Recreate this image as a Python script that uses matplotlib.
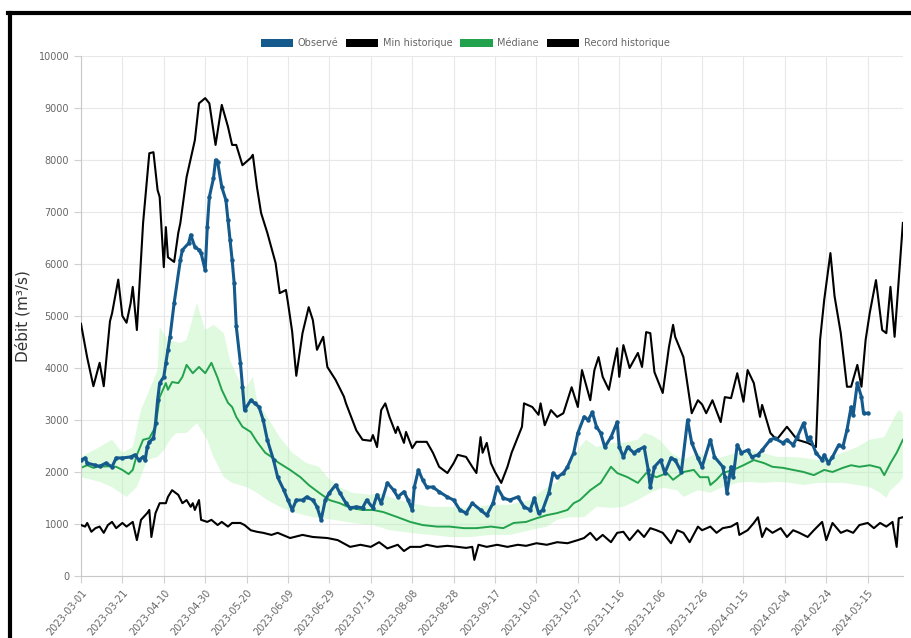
import numpy as np
import matplotlib
matplotlib.use("Agg")
import matplotlib.pyplot as plt
import matplotlib.dates as mdates
from matplotlib.patches import Patch
from matplotlib.lines import Line2D

start = np.datetime64("2023-03-01")
end_day = 397

# observed flow (day offset from 2023-03-01, m3/s)
obs_days = [0, 2, 3, 7, 9, 12, 15, 17, 20, 24, 26, 28, 30, 31, 32, 33, 35, 36, 37, 38, 40, 41, 42, 43,
            45, 48, 49, 52, 53, 55, 57, 58, 60, 61, 62, 64, 65, 66, 68, 70, 71, 72, 73, 74, 75, 77, 78, 79,
            82, 84, 86, 88, 90, 93, 95, 98, 100, 102, 104, 107, 109, 112, 114, 116, 118, 120, 123, 125, 128,
            130, 133, 136, 138, 141, 143, 145, 148, 151, 153, 156, 158, 160, 161, 163, 165, 167, 170, 173,
            177, 180, 183, 186, 189, 193, 196, 199, 201, 204, 207, 211, 214, 217, 219, 221, 223, 226, 228,
            230, 233, 235, 238, 240, 243, 245, 247, 249, 251, 253, 256, 259, 260, 262, 264, 267, 269, 272,
            274, 275, 277, 280, 282, 285, 287, 290, 293, 295, 298, 300, 304, 306, 310, 311, 312, 314, 315,
            317, 319, 322, 324, 327, 329, 333, 335, 339, 341, 344, 346, 349, 351, 352, 355, 358, 359, 361,
            363, 366, 368, 370, 372, 373, 375, 377, 378, 380]
obs_vals = [2230, 2270, 2170, 2130, 2110, 2170, 2100, 2270, 2270, 2290, 2330, 2230, 2290, 2230, 2480, 2580,
            2650, 2940, 3380, 3710, 3830, 4100, 4350, 4600, 5250, 6080, 6270, 6400, 6560, 6330, 6270, 6210,
            5880, 6710, 7290, 7650, 8000, 7960, 7480, 7230, 6850, 6460, 6080, 5630, 4800, 4100, 3640, 3190,
            3380, 3320, 3250, 3000, 2620, 2230, 1900, 1650, 1460, 1270, 1460, 1460, 1520, 1460, 1330, 1080,
            1460, 1600, 1750, 1600, 1400, 1310, 1330, 1310, 1460, 1310, 1560, 1400, 1790, 1650, 1520, 1620,
            1460, 1270, 1710, 2040, 1850, 1710, 1710, 1620, 1520, 1460, 1270, 1210, 1400, 1270, 1170, 1400,
            1710, 1500, 1460, 1520, 1330, 1270, 1500, 1210, 1270, 1600, 1980, 1900, 1980, 2100, 2370, 2750,
            3060, 3000, 3150, 2870, 2750, 2480, 2670, 2960, 2480, 2290, 2480, 2370, 2420, 2480, 2040, 1710,
            2100, 2230, 1980, 2270, 2230, 2000, 3000, 2560, 2270, 2100, 2620, 2290, 2100, 1900, 1600, 2100,
            1900, 2520, 2370, 2420, 2290, 2330, 2420, 2620, 2650, 2560, 2620, 2520, 2670, 2940, 2620, 2670,
            2370, 2230, 2330, 2170, 2290, 2520, 2480, 2810, 3250, 3100, 3710, 3440, 3130, 3130]

# historical minimum
min_days = [0, 2, 3, 5, 7, 9, 11, 13, 15, 17, 20, 22, 25, 27, 29, 32, 33, 34, 36, 38, 41, 42, 44, 47, 49,
            51, 53, 54, 55, 57, 58, 61, 63, 66, 68, 71, 73, 77, 79, 82, 85, 88, 92, 95, 101, 107, 112, 119,
            124, 130, 135, 140, 144, 148, 153, 156, 159, 164, 167, 172, 177, 182, 186, 189, 190, 192, 196,
            201, 206, 211, 215, 220, 225, 230, 235, 240, 243, 246, 249, 252, 256, 259, 262, 265, 269, 272,
            275, 278, 281, 285, 288, 291, 294, 298, 300, 304, 307, 310, 314, 317, 318, 322, 325, 327, 329,
            331, 334, 338, 341, 344, 347, 351, 354, 358, 360, 363, 367, 370, 373, 376, 380, 383, 386, 389,
            392, 394, 395, 397]
min_vals = [980, 950, 1020, 850, 920, 950, 830, 980, 1040, 920, 1020, 950, 1040, 690, 1080, 1210, 1270, 750,
            1210, 1400, 1400, 1520, 1650, 1560, 1400, 1460, 1330, 1400, 1270, 1460, 1080, 1040, 1080, 980,
            1040, 950, 1020, 1020, 980, 880, 850, 830, 790, 830, 730, 790, 750, 730, 690, 560, 600, 560, 650,
            530, 600, 480, 560, 560, 600, 560, 580, 560, 540, 560, 310, 600, 560, 600, 560, 600, 580, 630,
            600, 650, 630, 690, 730, 830, 690, 790, 650, 830, 850, 690, 880, 750, 920, 880, 830, 630, 880,
            830, 650, 950, 880, 950, 830, 920, 950, 1020, 790, 880, 1020, 1130, 750, 920, 830, 920, 750, 880,
            830, 750, 880, 1040, 690, 1020, 830, 880, 830, 980, 1020, 920, 1020, 950, 1040, 560, 1110, 1130]

# median
med_days = [0, 3, 6, 8, 13, 17, 20, 23, 25, 27, 30, 33, 36, 38, 41, 42, 44, 47, 49, 51, 54, 57, 60, 63,
            66, 68, 71, 73, 75, 78, 82, 85, 89, 92, 95, 101, 106, 110, 115, 120, 125, 130, 136, 141, 146,
            153, 159, 165, 172, 178, 185, 191, 198, 204, 209, 215, 220, 225, 230, 235, 238, 241, 246, 251,
            256, 259, 264, 269, 273, 278, 283, 286, 291, 296, 299, 303, 304, 307, 310, 315, 320, 325, 330,
            334, 339, 344, 349, 354, 359, 363, 368, 372, 376, 381, 386, 388, 391, 394, 397]
med_vals = [2080, 2130, 2080, 2100, 2110, 2100, 2040, 1960, 2040, 2330, 2620, 2650, 2870, 3440, 3710, 3580,
            3730, 3710, 3830, 4060, 3900, 4020, 3900, 4100, 3810, 3580, 3330, 3250, 3060, 2870, 2770, 2580,
            2370, 2290, 2190, 2040, 1900, 1750, 1600, 1460, 1400, 1310, 1270, 1270, 1230, 1130, 1040, 980,
            950, 950, 920, 920, 950, 920, 1020, 1040, 1110, 1170, 1210, 1270, 1400, 1460, 1650, 1790, 2100,
            1980, 1900, 1790, 1980, 1900, 1980, 1850, 2000, 2040, 1900, 1900, 1750, 1850, 1980, 2040, 2130,
            2230, 2170, 2100, 2080, 2040, 2000, 1940, 2040, 2000, 2080, 2130, 2100, 2130, 2080, 1940, 2170,
            2370, 2620]

# band around the median
up_days = [0, 9, 15, 20, 25, 29, 37, 38, 42, 48, 51, 56, 60, 64, 69, 72, 77, 80, 83, 85, 90, 96, 102, 109,
           115, 119, 125, 131, 140, 144, 149, 159, 169, 178, 188, 198, 207, 217, 223, 230, 236, 241, 244,
           249, 256, 262, 269, 272, 276, 280, 285, 291, 298, 304, 310, 317, 323, 329, 336, 343, 349, 356,
           362, 368, 375, 381, 388, 393, 395, 397]
up_vals = [2290, 2480, 2620, 2370, 2480, 3190, 3960, 4790, 4540, 4480, 4540, 5250, 4730, 4830, 4670, 4150,
           3710, 3640, 3830, 3380, 3060, 2670, 2370, 2170, 2100, 1900, 1710, 1600, 1560, 1600, 1520, 1400,
           1330, 1330, 1310, 1370, 1370, 1460, 1650, 1810, 2170, 2480, 2620, 2480, 2560, 2560, 2620, 2750,
           2700, 2600, 2370, 2230, 2370, 2230, 2290, 2370, 2420, 2370, 2290, 2290, 2270, 2230, 2290, 2370,
           2480, 2620, 2670, 3060, 3190, 3130]
lo_days = [0, 9, 15, 22, 27, 32, 37, 40, 43, 46, 51, 56, 61, 64, 69, 73, 80, 85, 90, 96, 104, 112, 122, 131,
           141, 149, 159, 169, 178, 188, 198, 207, 217, 225, 230, 236, 243, 249, 256, 262, 269, 275, 281,
           288, 291, 298, 304, 310, 317, 323, 329, 336, 343, 349, 356, 362, 368, 375, 381, 386, 389, 391,
           395, 397]
lo_vals = [1900, 1810, 1710, 1520, 1710, 2230, 2290, 2420, 2620, 2750, 2750, 2940, 2620, 2290, 1900, 1790,
           1710, 1600, 1460, 1330, 1210, 1130, 1080, 1020, 980, 880, 830, 790, 750, 750, 790, 790, 880, 950,
           1080, 1130, 1130, 1330, 1310, 1330, 1460, 1600, 1700, 1650, 1520, 1650, 1600, 1710, 1790, 1810,
           1790, 1810, 1790, 1750, 1790, 1790, 1790, 1750, 1710, 1600, 1500, 1650, 1790, 1900]

# historical record
rec_days = [0, 3, 6, 9, 11, 14, 15, 18, 20, 22, 24, 25, 27, 30, 33, 35, 37, 38, 40, 41, 42, 45, 47, 48, 51,
            55, 57, 60, 62, 65, 68, 71, 73, 75, 78, 82, 83, 85, 87, 90, 94, 96, 99, 100, 102, 104, 107, 110,
            112, 114, 117, 119, 123, 127, 128, 133, 136, 140, 141, 143, 145, 147, 149, 152, 153, 156, 157,
            160, 162, 167, 170, 173, 177, 180, 182, 186, 189, 191, 193, 194, 196, 198, 200, 203, 206, 208,
            211, 213, 214, 218, 221, 222, 224, 227, 230, 233, 235, 237, 240, 242, 246, 248, 250, 252, 255,
            257, 259, 260, 262, 265, 269, 271, 273, 275, 277, 281, 284, 286, 287, 291, 295, 298, 300, 302,
            305, 309, 311, 314, 317, 320, 322, 325, 328, 329, 333, 336, 341, 346, 351, 355, 357, 359, 362,
            364, 367, 370, 372, 375, 377, 379, 381, 384, 387, 389, 391, 393, 397]
rec_vals = [4850, 4200, 3650, 4100, 3650, 4900, 5050, 5700, 5000, 4870, 5250, 5560, 4730, 6790, 8130, 8150,
            7420, 7290, 5940, 6710, 6130, 6040, 6600, 6790, 7670, 8380, 9090, 9190, 9090, 8290, 9060, 8640,
            8290, 8290, 7900, 8040, 8100, 7480, 6980, 6600, 6020, 5440, 5500, 5250, 4700, 3850, 4670, 5170,
            4920, 4350, 4600, 4020, 3770, 3450, 3320, 2800, 2620, 2600, 2710, 2480, 3190, 3320, 3060, 2750,
            2870, 2560, 2770, 2460, 2580, 2580, 2370, 2100, 1980, 2170, 2330, 2290, 2100, 1980, 2670, 2370,
            2560, 2170, 2000, 1790, 2100, 2370, 2670, 2870, 3320, 3250, 3100, 3320, 2900, 3190, 3060, 3130,
            3380, 3630, 3250, 3960, 3380, 3960, 4210, 3830, 3580, 4000, 4380, 3830, 4440, 4000, 4290, 4020,
            4690, 4670, 3920, 3520, 4400, 4830, 4600, 4210, 3130, 3380, 3300, 3130, 3380, 2960, 3440, 3420,
            3900, 3350, 3960, 3710, 3060, 3290, 2750, 2620, 2870, 2620, 2560, 2480, 4540, 5310, 6210, 5380,
            4670, 3640, 3640, 4060, 3640, 4540, 5060, 5690, 4730, 4670, 5560, 4600, 6790]


def to_dates(days):
    return start + np.array(days).astype("timedelta64[D]")


blue = "#155a8d"
green = "#23a24d"

fig = plt.figure(figsize=(9.12, 6.38), dpi=100)
ax = fig.add_axes([0.0888, 0.0972, 0.9012, 0.815])

band_x = np.concatenate([to_dates(up_days), to_dates(lo_days)[::-1]])
band_y = np.concatenate([up_vals, lo_vals[::-1]])
ax.fill(band_x, band_y, color="#b8f5b8", alpha=0.45, lw=0, zorder=1)

ax.plot(to_dates(med_days), med_vals, color=green, lw=1.4, zorder=2)
ax.plot(to_dates(rec_days), rec_vals, color="black", lw=1.5, zorder=3)
ax.plot(to_dates(min_days), min_vals, color="black", lw=1.5, zorder=3)
ax.plot(to_dates(obs_days), obs_vals, color=blue, lw=2.2, marker="o", ms=2.2, zorder=4)

ax.set_ylim(0, 10000)
ax.set_xlim(start, start + np.timedelta64(end_day, "D"))
ax.set_yticks(np.arange(0, 10001, 1000))
ax.set_xticks(to_dates(list(range(0, 381, 20))))
ax.xaxis.set_major_formatter(mdates.DateFormatter("%Y-%m-%d"))
plt.setp(ax.get_xticklabels(), rotation=50, ha="right", rotation_mode="anchor")
ax.tick_params(labelsize=7, colors="#d0d0d0", labelcolor="#666666", length=5)
ax.grid(color="#e8e8e8", lw=0.8)
ax.set_axisbelow(True)
for side in ["top", "right"]:
    ax.spines[side].set_visible(False)
for side in ["left", "bottom"]:
    ax.spines[side].set_color("#c8c8c8")
ax.set_ylabel("Débit (m³/s)", fontsize=11, color="#333333")
ax.yaxis.set_label_coords(-0.062, 0.5)

handles = [Patch(facecolor=blue), Patch(facecolor="black"),
           Patch(facecolor=green), Patch(facecolor="black")]
labels = ["Observé", "Min historique", "Médiane", "Record historique"]
fig.legend(handles, labels, loc="center", bbox_to_anchor=(0.51, 0.932), ncol=4, frameon=False,
           fontsize=7, labelcolor="#666666", handlelength=3.3, handleheight=1.0, columnspacing=0.8,
           handletextpad=0.5)

# black frame of the screenshot
fig.add_artist(Line2D([0.011, 0.011], [0, 0.98], color="black", lw=3))
fig.add_artist(Line2D([0.009, 1.0], [0.98, 0.98], color="black", lw=3))

fig.savefig("out.png", dpi=100)
